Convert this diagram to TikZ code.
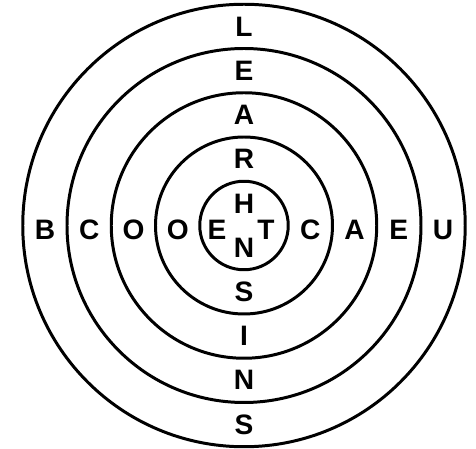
\documentclass[tikz,border=0pt]{standalone}
\usepackage{fontspec}
\setmainfont{Liberation Sans}
\usetikzlibrary{calc}
\tikzset{
  ring/.style={draw, line width=1.7pt},
  letter/.style={font=\fontsize{16}{18}\selectfont\bfseries, inner sep=0pt}
}

\begin{document}
\begin{tikzpicture}[x=1cm,y=1cm]
  \useasboundingbox (-4.88,-4.47) rectangle (4.64,4.51);
  \coordinate (c) at (0,0);
  % rings
  \foreach \r in {1,...,5}
    \draw[ring] (c) circle ({0.885*\r});
  % column
  \foreach \ltr [count=\k] in {L,E,A,R,H}
    \node[letter] (north\k) at ($(c)+(0,{0.44+0.885*(5-\k)})$) {\ltr};
  \foreach \ltr [count=\k] in {N,S,I,N,S}
    \node[letter] (south\k) at ($(c)+(0,{-0.44-0.885*(\k-1)})$) {\ltr};
  % row
  \foreach \ltr [count=\k] in {B,C,O,O}
    \node[letter] (west\k) at ($(c)+({-0.44-0.885*(5-\k)},-0.09)$) {\ltr};
  \node[letter] (west5) at ($(c)+(-0.54,-0.09)$) {E};
  \foreach \ltr [count=\k] in {T,C,A,E,U}
    \node[letter] (east\k) at ($(c)+({0.44+0.885*(\k-1)},-0.09)$) {\ltr};
\end{tikzpicture}
\end{document}
